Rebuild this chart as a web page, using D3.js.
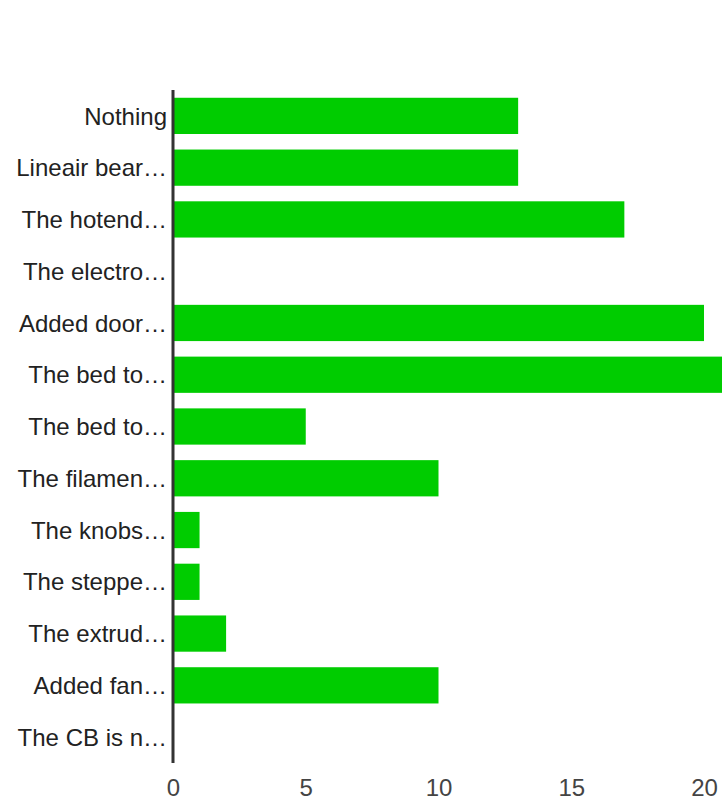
<!DOCTYPE html>
<html><head><meta charset="utf-8">
<script src="https://cdn.jsdelivr.net/npm/d3@7"></script>
<style>body{margin:0;background:#fff;overflow:hidden}svg{display:block}</style>
</head><body>
<script>
const categories = ["Nothing","Lineair bear\u2026","The hotend\u2026","The electro\u2026","Added door\u2026","The bed to\u2026","The bed to\u2026","The filamen\u2026","The knobs\u2026","The steppe\u2026","The extrud\u2026","Added fan\u2026","The CB is n\u2026"];
const values = [13,13,17,0,20,21,5,10,1,1,2,10,0];
const xTicks = [0,5,10,15,20];

const W = 722, H = 801;
const svg = d3.select("body").append("svg").attr("width", W).attr("height", H);
const x = d3.scaleLinear().domain([0,20]).range([173,704]);
const y = d3.scaleBand().domain(d3.range(categories.length)).range([90,763]).paddingInner(0.3).paddingOuter(0.15);

svg.append("g").selectAll("rect").data(values).join("rect")
  .attr("x", x(0)).attr("y", (d,i)=>y(i))
  .attr("width", d => Math.max(0, x(d)-x(0))).attr("height", y.bandwidth())
  .attr("fill", "#00cc00");

const yAxis = svg.append("g").attr("transform", `translate(${x(0)},1)`)
  .call(d3.axisLeft(y).tickSize(0).tickPadding(6).tickFormat(i => categories[i]));
yAxis.select(".domain").remove();
yAxis.selectAll("text").attr("font-family","Liberation Sans, Arial, sans-serif").attr("font-size",24).attr("fill","#222");

svg.append("line").attr("x1", x(0)).attr("x2", x(0)).attr("y1", 90).attr("y2", 763)
  .attr("stroke", "#333").attr("stroke-width", 3);

const xAxis = svg.append("g").attr("transform", `translate(0,763)`)
  .call(d3.axisBottom(x).tickValues(xTicks).tickSize(0).tickPadding(16).tickFormat(d3.format("d")));
xAxis.select(".domain").remove();
xAxis.selectAll("text").attr("font-family","Liberation Sans, Arial, sans-serif").attr("font-size",24).attr("fill","#444");
</script>
</body></html>
